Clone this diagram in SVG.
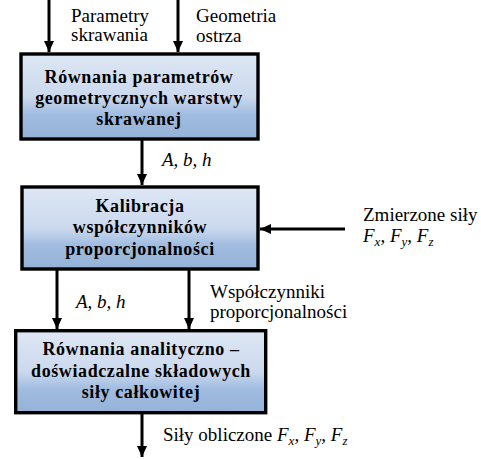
<svg xmlns="http://www.w3.org/2000/svg" width="481" height="459" viewBox="0 0 481 459">
<defs>
<linearGradient id="boxgrad" x1="0" y1="0" x2="0" y2="1">
<stop offset="0" stop-color="#dee7f4"/>
<stop offset="0.5" stop-color="#cbd9ee"/>
<stop offset="0.72" stop-color="#9fbbe0"/>
<stop offset="1" stop-color="#95b3d7"/>
</linearGradient>
<marker id="arr" markerUnits="userSpaceOnUse" markerWidth="12" markerHeight="12" viewBox="0 0 12 12" refX="11" refY="6" orient="auto">
<path d="M0,1 L11,6 L0,11 Z" fill="#000"/>
</marker>
</defs>
<style>
.box{fill:url(#boxgrad);stroke:#000;stroke-width:3.4}
.bt{font-family:"Liberation Serif","Times New Roman",serif;font-weight:bold;font-size:18px;letter-spacing:0.6px;text-anchor:middle;fill:#000}
.t{font-family:"Liberation Serif","Times New Roman",serif;font-size:19px;fill:#000}
.i{font-style:italic}
.sub{font-size:13px}
.c{fill:none;stroke:#000;stroke-width:3}
</style>
<g id="connectors">
<path class="c" d="M49,0 V52" marker-end="url(#arr)"/>
<path class="c" d="M178,0 V52" marker-end="url(#arr)"/>
<path class="c" d="M142,139 V185" marker-end="url(#arr)"/>
<path class="c" d="M345,229 H260" marker-end="url(#arr)"/>
<path class="c" d="M57,269 V329" marker-end="url(#arr)"/>
<path class="c" d="M189,269 V329" marker-end="url(#arr)"/>
<path class="c" d="M142,413 V457" marker-end="url(#arr)"/>
</g>
<g id="label-parametry">
<text class="t" x="71" y="22">Parametry</text>
<text class="t" x="71" y="41">skrawania</text>
</g>
<g id="label-geometria">
<text class="t" x="196" y="22">Geometria</text>
<text class="t" x="196" y="42">ostrza</text>
</g>
<g id="node1">
<rect class="box" x="21" y="54" width="237" height="85"/>
<text class="bt" x="139" y="83">Równania parametrów</text>
<text class="bt" x="139" y="104">geometrycznych warstwy</text>
<text class="bt" x="139" y="125">skrawanej</text>
</g>
<g id="label-abh1">
<text class="t i" x="162" y="166">A, b, h</text>
</g>
<g id="node2">
<rect class="box" x="22" y="187" width="236" height="82"/>
<text class="bt" x="140" y="212">Kalibracja</text>
<text class="bt" x="140" y="233">współczynników</text>
<text class="bt" x="140" y="255">proporcjonalności</text>
</g>
<g id="label-zmierzone">
<text class="t" x="363" y="221">Zmierzone siły</text>
<text class="t i" x="363" y="242">F<tspan class="sub" dy="4">x</tspan><tspan dy="-4">, F</tspan><tspan class="sub" dy="4">y</tspan><tspan dy="-4">, F</tspan><tspan class="sub" dy="4">z</tspan></text>
</g>
<g id="label-abh2">
<text class="t i" x="76" y="308">A, b, h</text>
</g>
<g id="label-wspolczynniki">
<text class="t" x="210" y="298">Współczynniki</text>
<text class="t" x="210" y="318">proporcjonalności</text>
</g>
<g id="node3">
<rect class="box" x="15.7" y="330.7" width="250" height="82"/>
<text class="bt" x="141" y="355">Równania analityczno –</text>
<text class="bt" x="141" y="377">doświadczalne składowych</text>
<text class="bt" x="141" y="398">siły całkowitej</text>
</g>
<g id="label-output">
<text class="t" x="163" y="441">Siły obliczone <tspan class="i">F</tspan><tspan class="i sub" dy="4">x</tspan><tspan class="i" dy="-4">, F</tspan><tspan class="i sub" dy="4">y</tspan><tspan class="i" dy="-4">, F</tspan><tspan class="i sub" dy="4">z</tspan></text>
</g>
</svg>
